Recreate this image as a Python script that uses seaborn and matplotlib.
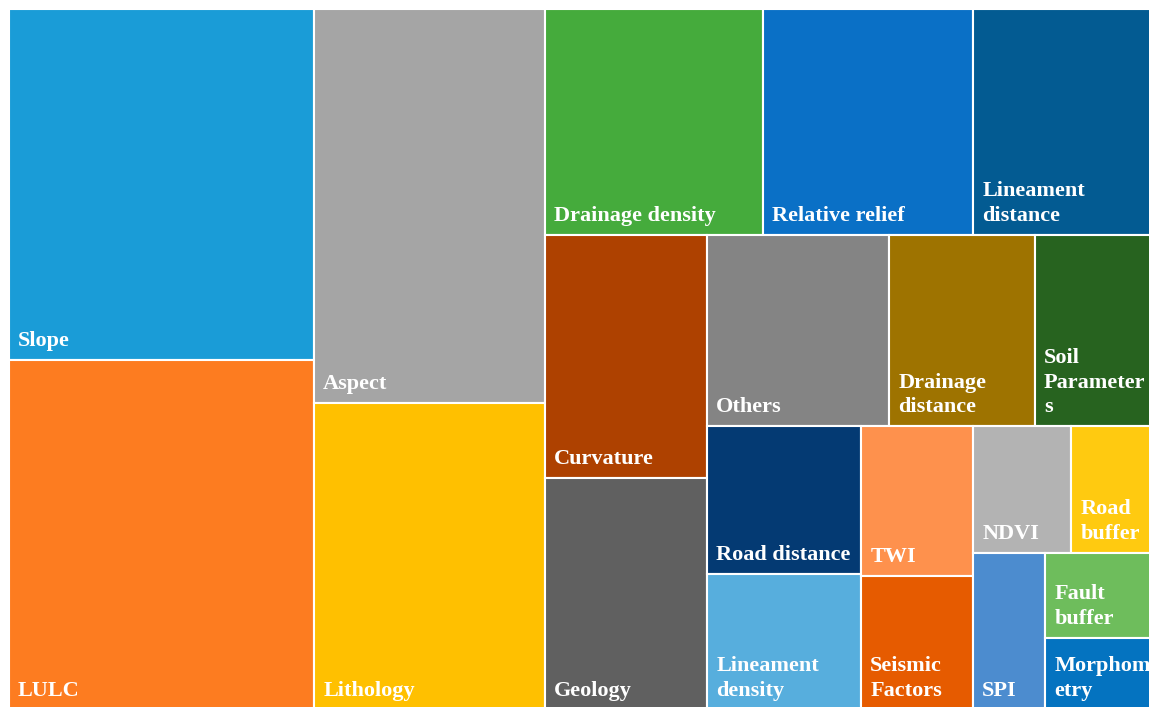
import matplotlib
matplotlib.use("Agg")
import matplotlib.pyplot as plt
from matplotlib.patches import Rectangle
import seaborn as sns

sns.set_theme(style="white")
plt.rcParams['font.family'] = ['Liberation Serif', 'DejaVu Serif']

# factor -> relative weight
factors = ["Slope", "LULC", "Aspect", "Lithology", "Drainage density", "Relative relief",
           "Lineament distance", "Curvature", "Geology", "Others", "Drainage distance",
           "Soil Parameters", "Road distance", "Lineament density", "TWI", "Seismic Factors",
           "NDVI", "Road buffer", "SPI", "Fault buffer", "Morphometry"]
weights = [107.1, 106.8, 91.0, 70.9, 49.3, 47.5,
           41.8, 39.4, 37.6, 34.8, 27.9,
           23.5, 22.8, 20.9, 16.8, 15.0,
           12.4, 11.0, 11.3, 9.6, 8.1]
labels = ["Slope", "LULC", "Aspect", "Lithology", "Drainage density", "Relative relief",
          "Lineament\ndistance", "Curvature", "Geology", "Others", "Drainage\ndistance",
          "Soil\nParameter\ns", "Road distance", "Lineament\ndensity", "TWI", "Seismic\nFactors",
          "NDVI", "Road\nbuffer", "SPI", "Fault\nbuffer", "Morphom\netry"]
colors = ["#1a9cd7", "#fd7c20", "#a5a5a5", "#ffc000", "#45ab3c", "#0a70c6",
          "#035b92", "#ae4100", "#606060", "#848484", "#9e7300",
          "#27631f", "#043a73", "#57aedd", "#fe914d", "#e65b00",
          "#b3b3b3", "#ffca10", "#4c8ccf", "#6ebd5c", "#0473c0"]
# strips as laid out by the treemap (each fills the short side of what is left)
groups = [[0, 1], [2, 3], [4, 5, 6], [7, 8], [9, 10, 11], [12, 13], [14, 15],
          [16, 17], [18], [19], [20]]


def strip_layout(vals, groups, x, y, w, h):
    scale = w * h / sum(vals)
    rects = {}
    for grp in groups:
        s = sum(vals[i] for i in grp) * scale
        if w >= h:
            cw = s / h
            yy = y
            for i in grp:
                ih = vals[i] * scale / cw
                rects[i] = (x, yy, cw, ih)
                yy += ih
            x += cw
            w -= cw
        else:
            rh = s / w
            xx = x
            for i in grp:
                iw = vals[i] * scale / rh
                rects[i] = (xx, y, iw, rh)
                xx += iw
            y += rh
            h -= rh
    return rects


W, H = 1149, 701
fig = plt.figure(figsize=(11.49, 7.07), dpi=100)
ax = fig.add_axes([9 / 1149, -3 / 707, W / 1149, H / 707])
ax.set_xlim(0, W)
ax.set_ylim(H, 0)
ax.axis("off")

rects = strip_layout(weights, groups, 0, 0, W, H)
for i, (x, y, w, h) in rects.items():
    ax.add_patch(Rectangle((x, y), w, h, facecolor=colors[i], edgecolor="white", linewidth=1.5))
    ax.text(x + 9, y + h - 9, labels[i], color="white", fontsize=16, fontweight="bold",
            ha="left", va="bottom", linespacing=1.32)

fig.savefig("out.png", dpi=100)
